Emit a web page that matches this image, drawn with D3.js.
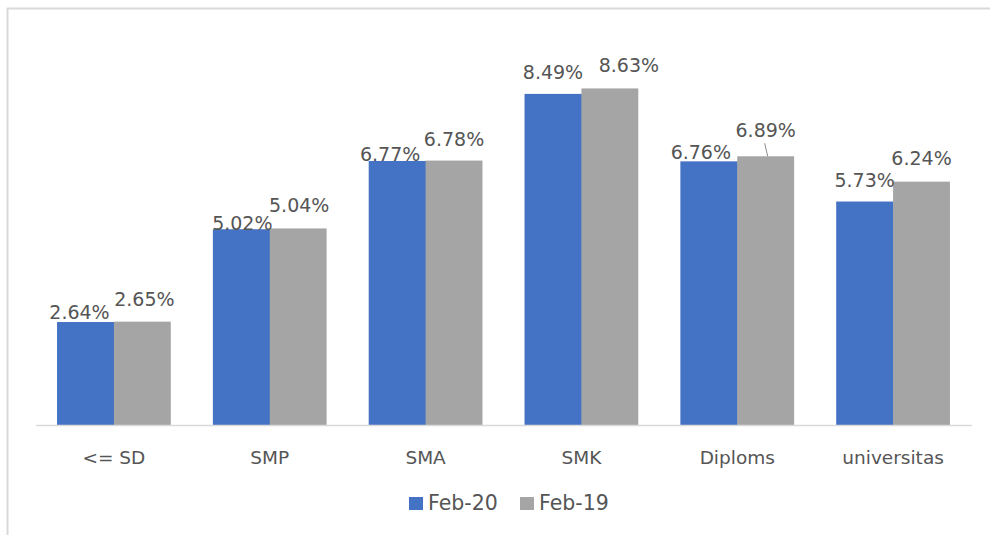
<!DOCTYPE html>
<html>
<head>
<meta charset="utf-8">
<script src="https://cdn.jsdelivr.net/npm/d3@7"></script>
<style>
  html, body { margin: 0; padding: 0; background: #fff; }
  svg { display: block; }
  text { font-family: "DejaVu Sans", sans-serif; fill: #555555; }
</style>
</head>
<body>
<svg id="chart" width="990" height="535"></svg>
<script>
// ---- data ----
const categories = ["<= SD", "SMP", "SMA", "SMK", "Diploms", "universitas"];
const seriesNames = ["Feb-20", "Feb-19"];
const feb20 = [2.64, 5.02, 6.77, 8.49, 6.76, 5.73];
const feb19 = [2.65, 5.04, 6.78, 8.63, 6.89, 6.24];
const colors = ["#4472c4", "#a5a5a5"];

// label placement nudges (layout only): [dx, dy from bar top]
const nudge20 = [[-6, -3], [1, 1], [-7, 0], [0, -15], [-8, -2], [0, -15]];
const nudge19 = [[2, -16], [1, -16], [0, -15], [19, -16], [0, -19], [0, -17]];

const svg = d3.select("#chart");
const W = 990, H = 535;

// frame (top and left edges visible)
svg.append("line").attr("x1", 7.5).attr("x2", 7.5).attr("y1", 8).attr("y2", H)
  .attr("stroke", "#d9d9d9").attr("stroke-width", 2);
svg.append("line").attr("x1", 7).attr("x2", W).attr("y1", 8.5).attr("y2", 8.5)
  .attr("stroke", "#d9d9d9").attr("stroke-width", 2);

const x0 = d3.scaleBand().domain(categories).range([36, 971])
  .paddingInner(0.27).paddingOuter(0.135);
const x1 = d3.scaleBand().domain(seriesNames).range([0, x0.bandwidth()]);
const y = d3.scaleLinear().domain([0, 10]).range([425, 35]);

const values = [feb20, feb19];
const nudges = [nudge20, nudge19];

// bars
seriesNames.forEach((s, si) => {
  svg.append("g").selectAll("rect")
    .data(categories)
    .join("rect")
    .attr("x", c => x0(c) + x1(s))
    .attr("y", (c, i) => y(values[si][i]))
    .attr("width", x1.bandwidth() + (si === 0 ? 0.5 : 0))
    .attr("height", (c, i) => y(0) - y(values[si][i]))
    .attr("fill", colors[si]);
});

// axis
const xAxis = d3.axisBottom(x0).tickSize(0).tickPadding(0);
const gx = svg.append("g").attr("transform", `translate(0,${y(0)})`).call(xAxis);
gx.select(".domain").attr("stroke", "#d9d9d9").attr("stroke-width", 1.5)
  .attr("d", "M36,0.5H972");
gx.selectAll(".tick text")
  .attr("dy", 0).attr("y", 39)
  .style("font-family", "'DejaVu Sans', sans-serif")
  .style("font-size", "18.5px").attr("fill", "#555555");

// data labels
seriesNames.forEach((s, si) => {
  svg.append("g").selectAll("text")
    .data(categories)
    .join("text")
    .attr("x", (c, i) => x0(c) + x1(s) + x1.bandwidth() / 2 + nudges[si][i][0])
    .attr("y", (c, i) => y(values[si][i]) + nudges[si][i][1])
    .attr("text-anchor", "middle")
    .style("font-size", "19px")
    .text((c, i) => values[si][i].toFixed(2) + "%");
});

// leader line for Diploms Feb-19
{
  const i = 4, si = 1;
  const cx = x0(categories[i]) + x1(seriesNames[si]) + x1.bandwidth() / 2 + nudges[si][i][0];
  svg.append("line")
    .attr("x1", cx - 1).attr("y1", y(values[si][i]) + nudges[si][i][1] + 6)
    .attr("x2", cx + 2).attr("y2", y(values[si][i]))
    .attr("stroke", "#8c8c8c").attr("stroke-width", 1);
}

// legend
const legendX = [409, 520];
const lg = svg.append("g");
seriesNames.forEach((s, si) => {
  lg.append("rect").attr("x", legendX[si]).attr("y", 497).attr("width", 14).attr("height", 13)
    .attr("fill", colors[si]);
  lg.append("text").attr("x", legendX[si] + 19).attr("y", 510)
    .style("font-size", "20.5px").text(s);
});
</script>
</body>
</html>
